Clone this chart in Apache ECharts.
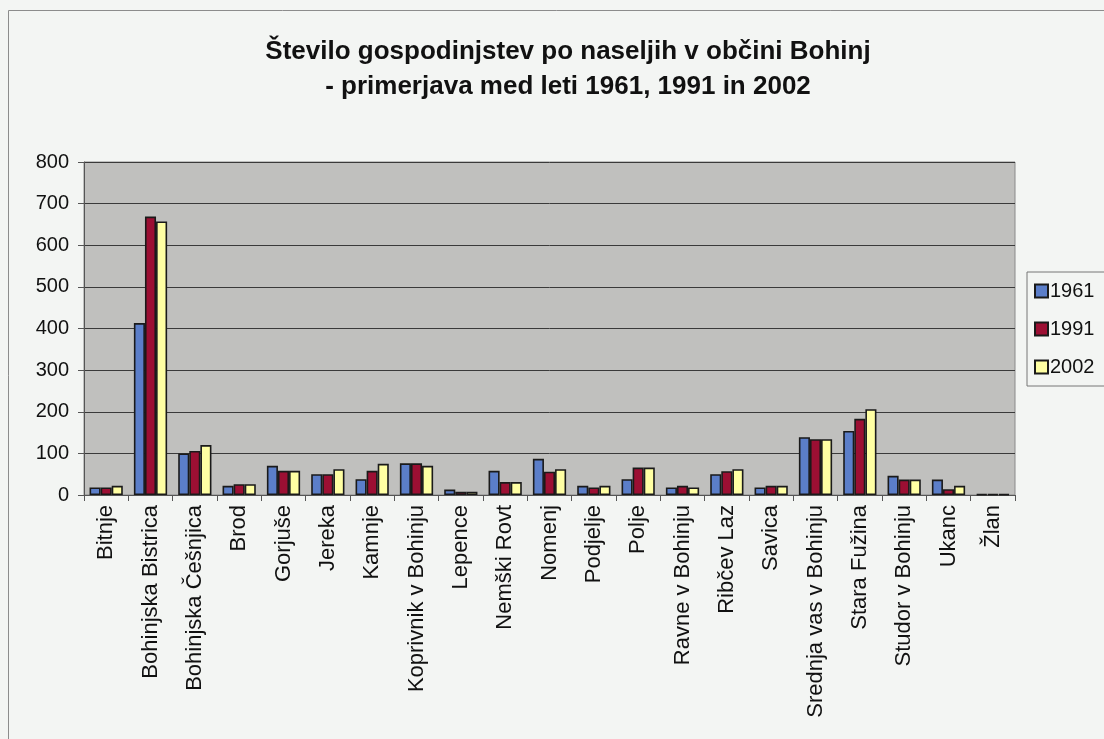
<!DOCTYPE html>
<html>
<head>
<meta charset="utf-8">
<script src="https://cdn.jsdelivr.net/npm/echarts@6/dist/echarts.min.js"></script>
<style>
  html, body { margin: 0; padding: 0; background: #f3f5f3; }
  #chart { width: 1104px; height: 739px; }
</style>
</head>
<body>
<div id="chart"></div>
<script>
// Settlements of the Bohinj municipality
const naselja = [
  'Bitnje', 'Bohinjska Bistrica', 'Bohinjska Češnjica', 'Brod', 'Gorjuše',
  'Jereka', 'Kamnje', 'Koprivnik v Bohinju', 'Lepence', 'Nemški Rovt',
  'Nomenj', 'Podjelje', 'Polje', 'Ravne v Bohinju', 'Ribčev Laz',
  'Savica', 'Srednja vas v Bohinju', 'Stara Fužina', 'Studor v Bohinju', 'Ukanc', 'Žlan'
];

// Number of households per census year
const leto1961 = [18, 413, 100, 22, 70, 50, 38, 76, 13, 58, 87, 22, 38, 18, 50, 18, 139, 154, 46, 37, 2];
const leto1991 = [18, 669, 106, 26, 58, 50, 58, 76, 8, 31, 56, 18, 66, 22, 57, 22, 134, 183, 37, 14, 2];
const leto2002 = [22, 657, 120, 26, 58, 62, 75, 70, 8, 31, 62, 22, 66, 18, 62, 22, 134, 206, 37, 22, 2];

const yTicks = { min: 0, max: 800, interval: 100 };

const FONT = '"Liberation Sans", Arial, sans-serif';

const chart = echarts.init(document.getElementById('chart'), null, { renderer: 'canvas' });

function serija(name, data, color) {
  return {
    name: name,
    type: 'bar',
    data: data,
    barGap: '0%',
    barCategoryGap: '25%',
    itemStyle: { color: color, borderColor: '#1a1a1a', borderWidth: 1.6 },
    emphasis: { disabled: true }
  };
}

chart.setOption({
  backgroundColor: '#f3f5f3',
  animation: false,
  textStyle: { fontFamily: FONT },
  title: {
    text: 'Število gospodinjstev po naseljih v občini Bohinj\n- primerjava med leti 1961, 1991 in 2002',
    left: 563,
    textAlign: 'center',
    top: 29,
    textStyle: {
      fontFamily: FONT,
      fontSize: 26,
      fontWeight: 'bold',
      color: '#111',
      lineHeight: 35
    }
  },
  legend: {
    orient: 'vertical',
    left: 1027,
    top: 272,
    padding: [9, 20, 9, 7],
    itemGap: 18,
    itemWidth: 13,
    itemHeight: 13,
    borderColor: '#777',
    borderWidth: 1,
    backgroundColor: '#f3f5f3',
    icon: 'rect',
    textStyle: { fontFamily: FONT, fontSize: 20, color: '#111', padding: [0, 0, 0, -3] },
    data: ['1961', '1991', '2002']
  },
  grid: {
    left: 84,
    top: 162,
    width: 931,
    height: 333,
    show: true,
    backgroundColor: '#c0c0be',
    borderColor: '#8a8a8a',
    borderWidth: 1
  },
  xAxis: {
    type: 'category',
    data: naselja,
    axisLine: { show: true, lineStyle: { color: '#555', width: 1 } },
    axisTick: { show: true, length: 6, alignWithLabel: false, lineStyle: { color: '#555' } },
    axisLabel: {
      rotate: 90,
      interval: 0,
      margin: 10,
      fontFamily: FONT,
      fontSize: 22,
      color: '#111'
    },
    splitLine: { show: false }
  },
  yAxis: {
    type: 'value',
    min: yTicks.min,
    max: yTicks.max,
    interval: yTicks.interval,
    axisLine: { show: true, lineStyle: { color: '#555' } },
    axisTick: { show: true, length: 6, inside: false, lineStyle: { color: '#555' } },
    axisLabel: { fontFamily: FONT, fontSize: 20, color: '#111', margin: 15 },
    splitLine: { show: true, lineStyle: { color: '#3a3a3a', width: 1 } }
  },
  graphic: [
    {
      type: 'rect',
      shape: { x: 8.5, y: 10.5, width: 1200, height: 800 },
      style: { fill: 'none', stroke: '#8c8c8c', lineWidth: 1 },
      silent: true,
      z: -1
    }
  ],
  series: [
    serija('1961', leto1961, '#5b7ec9'),
    serija('1991', leto1991, '#9c0f33'),
    serija('2002', leto2002, '#ffffa3')
  ]
});
</script>
</body>
</html>
